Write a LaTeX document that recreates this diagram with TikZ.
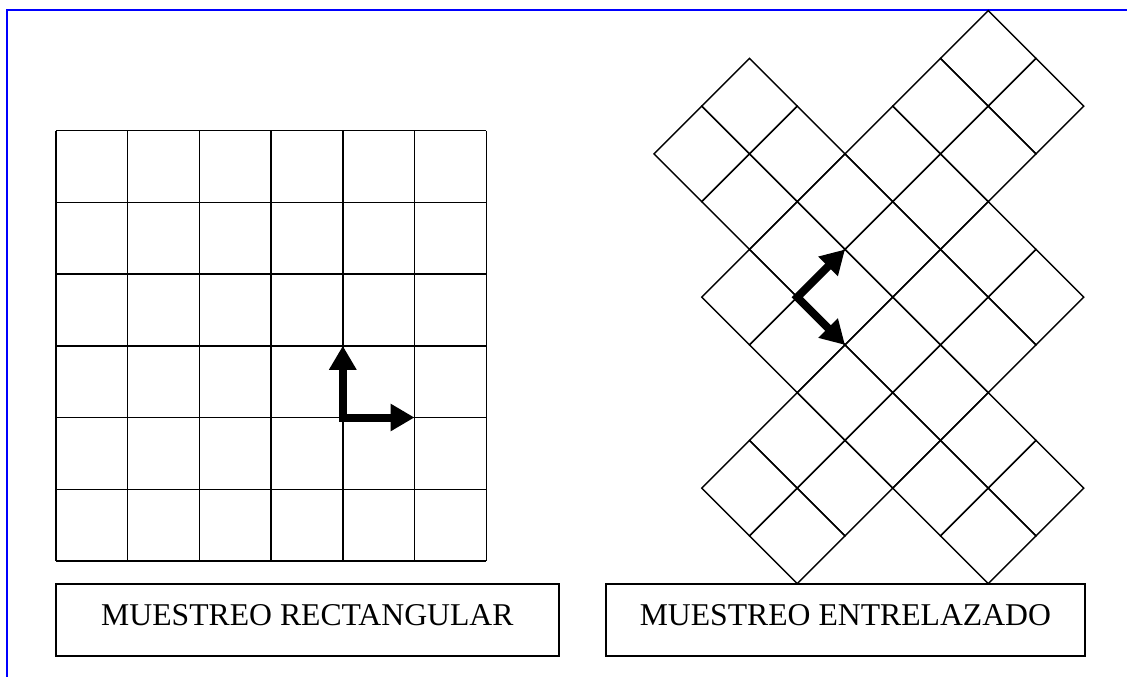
\documentclass[tikz,border=0pt]{standalone}
\usepackage{fontspec}
\setmainfont{Liberation Serif}
\usetikzlibrary{arrows.meta}
\tikzset{
  gridline/.style={draw=black, line width=1.4pt},
  labelbox/.style={draw=black, line width=1.8pt, text height=21pt, text depth=11.3pt,
    font=\fontsize{31.7}{38}\selectfont, inner sep=0pt},
  bigarrow/.style={line width=8pt, line join=miter,
    {Triangle[length=24pt,width=26pt]}-{Triangle[length=24pt,width=26pt]}},
  frameline/.style={draw=blue, line width=1.8pt}
}
\begin{document}
\begin{tikzpicture}[x=1pt,y=-1pt]
\useasboundingbox (0,0) rectangle (1127,677);
% frame
\draw[frameline] (1127,10) -- (7,10) -- (7,677);
% rectangular grid
\foreach \i in {0,...,6} {
  \draw[gridline] ({56+71.7*\i},130.7) -- ({56+71.7*\i},560.9);
  \draw[gridline] (56,{130.7+71.7*\i}) -- (486.2,{130.7+71.7*\i});
}
% interlaced grid
\foreach \c/\R in {7/1, 2/2,6/2,8/2, 1/3,3/3,5/3,7/3, 2/4,4/4,6/4, 3/5,5/5,7/5,
  2/6,4/6,6/6,8/6, 3/7,5/7,7/7, 4/8,6/8, 3/9,5/9,7/9, 2/10,4/10,6/10,8/10, 3/11,7/11}
  \draw[gridline, line join=miter] ({654+47.75*\c},{10.7+47.75*(\R-1)}) -- ++(47.75,47.75)
     -- ++(-47.75,47.75) -- ++(-47.75,-47.75) -- cycle;
% arrows, rectangular
\coordinate (rc) at (342.8,417.5);
\coordinate (ru) at (342.8,345.8);
\coordinate (rr) at (414.5,417.5);
\draw[bigarrow] (ru) -- (rc) -- (rr);
% arrows, interlaced
\coordinate (ic) at (797.25,297.2);
\coordinate (iu) at (845,249.45);
\coordinate (id) at (845,344.95);
\draw[bigarrow] (iu) -- (ic) -- (id);
% labels
\node[labelbox, minimum width=502.7pt, minimum height=71.7pt] (lrect) at (307.35,620.15) {MUESTREO RECTANGULAR};
\node[labelbox, minimum width=478.7pt, minimum height=71.7pt] (lint) at (845.35,620.15) {MUESTREO ENTRELAZADO};
\end{tikzpicture}
\end{document}
